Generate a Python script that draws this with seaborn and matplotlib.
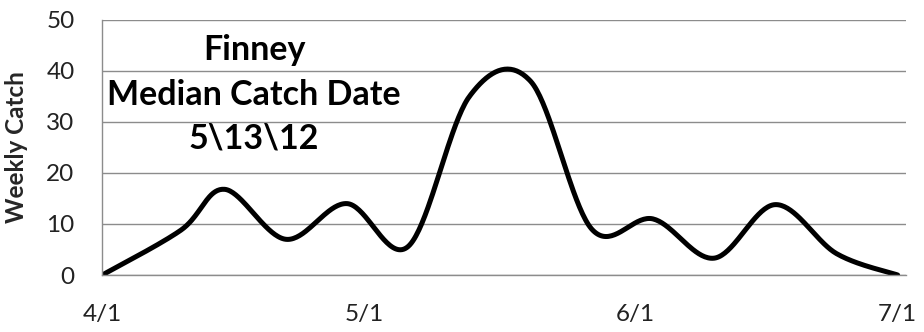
import numpy as np
import pandas as pd
import matplotlib
matplotlib.use("Agg")
import matplotlib.pyplot as plt
import seaborn as sns

# ---- data ----
catch_dates = ["2012-04-01", "2012-04-10", "2012-04-15", "2012-04-22", "2012-04-29",
               "2012-05-06", "2012-05-13", "2012-05-20", "2012-05-27", "2012-06-03",
               "2012-06-10", "2012-06-17", "2012-06-24", "2012-07-01"]
weekly_catch = [0, 8.8, 16.8, 7.0, 14.0, 5.6, 35.0, 38.0, 9.0, 11.0, 3.3, 13.8, 4.2, 0]
tick_dates = ["2012-04-01", "2012-05-01", "2012-06-01", "2012-07-01"]
tick_labels = ["4/1", "5/1", "6/1", "7/1"]
y_ticks = [0, 10, 20, 30, 40, 50]
title_lines = ["Finney", "Median Catch Date", "5\\13\\12"]
y_label = "Weekly Catch"

origin = pd.Timestamp("2012-04-01")
x = np.array([(pd.Timestamp(d) - origin).days for d in catch_dates], dtype=float)
y = np.array(weekly_catch, dtype=float)
xt = [(pd.Timestamp(d) - origin).days for d in tick_dates]

# Excel-style smoothed line (cubic Bezier, control points from neighbours)
def smooth(xs, ys, n=40):
    P = np.column_stack([xs, ys])
    out = []
    m = len(P)
    for i in range(m - 1):
        p0 = P[i - 1] if i > 0 else P[i]
        p1 = P[i]
        p2 = P[i + 1]
        p3 = P[i + 2] if i + 2 < m else P[i + 1]
        c1 = p1 + (p2 - p0) / 6.0
        c2 = p2 - (p3 - p1) / 6.0
        t = np.linspace(0, 1, n, endpoint=(i == m - 2))[:, None]
        seg = ((1 - t) ** 3) * p1 + 3 * ((1 - t) ** 2) * t * c1 + 3 * (1 - t) * t ** 2 * c2 + t ** 3 * p2
        out.append(seg)
    out = np.vstack(out)
    return out[:, 0], out[:, 1]

sx, sy = smooth(x, y)
df = pd.DataFrame({"day": sx, "catch": sy})

sns.set_theme(style="white")
plt.rcParams["font.family"] = ["Lato", "DejaVu Sans"]

fig = plt.figure(figsize=(9.24, 3.32), dpi=100)
ax = fig.add_axes([102.3 / 924, 1 - 275 / 332, (906 - 102.3) / 924, 255 / 332])

sns.lineplot(data=df, x="day", y="catch", sort=False, color="black", linewidth=3.6,
             ax=ax, estimator=None)
ax.lines[-1].set_solid_capstyle("round")
ax.lines[-1].set_solid_joinstyle("round")

ax.set_xlim(0, (906 - 102.3) / 8.74)
ax.set_ylim(0, 50)
ax.set_yticks(y_ticks)
ax.set_yticklabels([str(v) for v in y_ticks], fontsize=17.5, color="#222222")
ax.set_xticks(xt)
ax.set_xticklabels(tick_labels, fontsize=17.5, color="#222222")
ax.grid(axis="y", color="#8c8c8c", linewidth=1.0)
ax.grid(axis="x", visible=False)
ax.set_axisbelow(True)
for s in ["top", "right"]:
    ax.spines[s].set_visible(False)
for s in ["left", "bottom"]:
    ax.spines[s].set_color("#8c8c8c")
    ax.spines[s].set_linewidth(1.0)
ax.tick_params(axis="both", direction="out", length=5, width=1.0, color="#8c8c8c")
ax.tick_params(axis="y", pad=15)
ax.tick_params(axis="x", pad=16)
ax.set_xlabel("")
ax.set_ylabel(y_label, fontsize=17.5, fontweight="bold")
ax.yaxis.set_label_coords((28 - 102.3) / 803.7, 0.5)

for txt, yy in zip(title_lines, [50, 95, 138]):
    fig.text(254 / 924, 1 - yy / 332, txt, ha="center", va="center",
             fontsize=24.5, fontweight="bold", color="black")

fig.savefig("out.png", dpi=100)
